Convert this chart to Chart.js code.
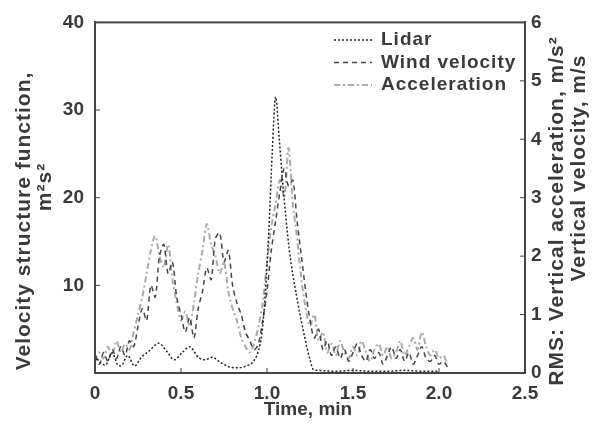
<!DOCTYPE html>
<html>
<head>
<meta charset="utf-8">
<script src="https://cdn.jsdelivr.net/npm/chart.js@4.4.1/dist/chart.umd.min.js"></script>
<style>
  html, body { margin: 0; padding: 0; background: #fff; }
  #chart { display: block; }
</style>
</head>
<body>
<canvas id="chart" width="592" height="429"></canvas>
<script>
// lidar structure function (left axis, m2 s-2)
const lidarTime = [0, 0.03, 0.06, 0.1, 0.13, 0.15, 0.19, 0.23, 0.27, 0.32, 0.37, 0.42, 0.46, 0.51, 0.55, 0.6, 0.64, 0.68, 0.73, 0.78, 0.83, 0.88, 0.92, 0.95, 0.97, 0.99, 1.01, 1.03, 1.05, 1.07, 1.09, 1.13, 1.17, 1.22, 1.25, 1.27, 1.3, 1.4, 1.5, 1.6, 1.7, 1.8, 1.9, 2.0];
const lidarValue = [2.0, 1.2, 0.9, 2.3, 1.0, 0.8, 2.0, 0.8, 1.8, 2.6, 3.4, 2.4, 1.5, 2.4, 3.0, 1.8, 1.5, 1.8, 1.2, 0.7, 0.6, 0.8, 1.3, 2.5, 4.5, 9, 16, 25, 31.5, 27, 22, 14, 9, 4, 1.5, 0.4, 0.3, 0.2, 0.3, 0.2, 0.2, 0.3, 0.2, 0.2];

// wind velocity and acceleration RMS (right axis)
const rmsTime = [0, 0.025, 0.05, 0.075, 0.1, 0.125, 0.15, 0.175, 0.2, 0.225, 0.25, 0.275, 0.3, 0.325, 0.35, 0.375, 0.4, 0.425, 0.45, 0.475, 0.5, 0.525, 0.55, 0.575, 0.6, 0.625, 0.65, 0.675, 0.7, 0.725, 0.75, 0.775, 0.8, 0.825, 0.85, 0.875, 0.9, 0.925, 0.95, 0.975, 1.0, 1.025, 1.05, 1.075, 1.1, 1.125, 1.15, 1.175, 1.2, 1.225, 1.25, 1.275, 1.3, 1.325, 1.35, 1.375, 1.4, 1.425, 1.45, 1.475, 1.5, 1.525, 1.55, 1.575, 1.6, 1.625, 1.65, 1.675, 1.7, 1.725, 1.75, 1.775, 1.8, 1.825, 1.85, 1.875, 1.9, 1.925, 1.95, 1.975, 2.0, 2.025, 2.05];
const windValue = [0.30, 0.15, 0.35, 0.20, 0.40, 0.25, 0.45, 0.30, 0.55, 0.45, 0.80, 1.10, 0.90, 1.50, 1.30, 2.00, 2.20, 1.70, 1.90, 1.30, 1.00, 0.70, 0.95, 0.60, 1.10, 1.40, 1.80, 1.60, 2.30, 2.40, 1.90, 2.10, 1.50, 1.20, 1.00, 0.70, 0.55, 0.40, 0.50, 0.90, 1.40, 2.10, 2.60, 3.10, 3.50, 3.20, 3.30, 2.60, 2.00, 1.40, 0.90, 0.60, 0.75, 0.40, 0.55, 0.30, 0.45, 0.25, 0.40, 0.20, 0.35, 0.50, 0.30, 0.20, 0.40, 0.25, 0.35, 0.15, 0.30, 0.45, 0.25, 0.40, 0.20, 0.35, 0.15, 0.30, 0.45, 0.25, 0.20, 0.30, 0.15, 0.20, 0.10];
const accelValue = [0.20, 0.35, 0.25, 0.45, 0.30, 0.55, 0.35, 0.50, 0.40, 0.70, 1.00, 1.30, 1.70, 2.10, 2.35, 2.00, 1.80, 2.20, 1.60, 1.20, 0.90, 1.05, 0.80, 1.20, 1.70, 2.10, 2.55, 2.20, 2.00, 1.70, 1.90, 1.40, 1.10, 0.90, 0.60, 0.45, 0.35, 0.50, 0.80, 1.20, 1.90, 2.50, 2.90, 3.30, 3.00, 3.85, 2.90, 2.30, 1.60, 1.10, 0.80, 1.00, 0.55, 0.70, 0.35, 0.50, 0.30, 0.55, 0.35, 0.25, 0.45, 0.30, 0.55, 0.35, 0.20, 0.40, 0.50, 0.30, 0.45, 0.25, 0.35, 0.55, 0.30, 0.45, 0.60, 0.40, 0.70, 0.45, 0.30, 0.40, 0.25, 0.30, 0.15];

const xTicks = [0, 0.5, 1.0, 1.5, 2.0, 2.5];
const leftTicks = [10, 20, 30, 40];
const rightTicks = [0, 1, 2, 3, 4, 5, 6];

const FONT = '"Liberation Sans", Arial, sans-serif';
const INK = '#3a3a3a';

function toPoints(xs, ys) {
  return xs.map((x, i) => ({ x, y: ys[i] }));
}

// legend, axis titles, frame and inward tick marks
const decorations = {
  id: 'decorations',
  afterDraw(chart) {
    const { ctx, chartArea: a, scales } = chart;
    ctx.save();

    ctx.strokeStyle = '#444';
    ctx.lineWidth = 2;
    ctx.strokeRect(a.left, a.top, a.right - a.left, a.bottom - a.top);

    ctx.lineWidth = 1;
    leftTicks.forEach(v => {
      const y = scales.y.getPixelForValue(v);
      ctx.beginPath(); ctx.moveTo(a.left, y); ctx.lineTo(a.left + 5, y); ctx.stroke();
    });
    rightTicks.forEach(v => {
      const y = scales.y2.getPixelForValue(v);
      ctx.beginPath(); ctx.moveTo(a.right, y); ctx.lineTo(a.right - 5, y); ctx.stroke();
    });
    xTicks.forEach(v => {
      const x = scales.x.getPixelForValue(v);
      ctx.beginPath(); ctx.moveTo(x, a.bottom); ctx.lineTo(x, a.bottom - 5); ctx.stroke();
    });

    // legend
    ctx.font = `bold 19px ${FONT}`;
    ctx.letterSpacing = '1px';
    ctx.textBaseline = 'middle';
    ctx.textAlign = 'left';
    chart.data.datasets.forEach((ds, i) => {
      const y = 40 + i * 22.5;
      ctx.strokeStyle = ds.borderColor;
      ctx.lineWidth = ds.borderWidth;
      ctx.setLineDash(ds.borderDash);
      ctx.beginPath(); ctx.moveTo(334, y); ctx.lineTo(372, y); ctx.stroke();
      ctx.setLineDash([]);
      ctx.fillStyle = INK;
      ctx.fillText(ds.label, 381, y);
    });

    // axis titles
    ctx.fillStyle = INK;
    ctx.textAlign = 'center';
    ctx.letterSpacing = '0px';
    ctx.fillText('Time, min', 308, 410);

    ctx.font = `bold 21px ${FONT}`;
    ctx.letterSpacing = '1px';
    const vertical = (text, x, y) => {
      ctx.save();
      ctx.translate(x, y);
      ctx.rotate(-Math.PI / 2);
      ctx.fillText(text, 0, 0);
      ctx.restore();
    };
    vertical('Velocity structure function,', 24, 221);
    vertical('m\u00b2s\u00b2', 45, 187);
    vertical('RMS: Vertical acceleration, m/s\u00b2', 557, 211);
    vertical('Vertical velocity, m/s', 579, 168);

    ctx.restore();
  },
};

new Chart(document.getElementById('chart'), {
  type: 'line',
  data: {
    datasets: [
      {
        label: 'Lidar',
        data: toPoints(lidarTime, lidarValue),
        yAxisID: 'y',
        borderColor: '#222',
        borderWidth: 1.5,
        borderDash: [2, 2],
        tension: 0.3,
        cubicInterpolationMode: 'monotone',
        pointRadius: 0,
      },
      {
        label: 'Wind velocity',
        data: toPoints(rmsTime, windValue),
        yAxisID: 'y2',
        borderColor: '#444',
        borderWidth: 1.5,
        borderDash: [5, 4],
        tension: 0.3,
        pointRadius: 0,
      },
      {
        label: 'Acceleration',
        data: toPoints(rmsTime, accelValue),
        yAxisID: 'y2',
        borderColor: '#aaa',
        borderWidth: 2,
        borderDash: [6, 3, 2, 3],
        tension: 0.3,
        pointRadius: 0,
      },
    ],
  },
  options: {
    responsive: false,
    animation: false,
    devicePixelRatio: 1,
    layout: { padding: { top: 18, left: 0, right: 0, bottom: 0 } },
    plugins: {
      legend: { display: false },
      tooltip: { enabled: false },
    },
    scales: {
      x: {
        type: 'linear',
        min: 0,
        max: 2.5,
        afterBuildTicks: s => { s.ticks = xTicks.map(value => ({ value })); },
        afterFit: s => { s.height = 56; },
        grid: { display: false, drawTicks: false },
        border: { color: '#444', width: 2 },
        ticks: {
          padding: 9,
          color: INK,
          font: { family: FONT, size: 19, weight: 'bold' },
          callback: v => (v === 0 ? '0' : v.toFixed(1)),
        },
      },
      y: {
        position: 'left',
        min: 0,
        max: 40,
        afterBuildTicks: s => { s.ticks = leftTicks.map(value => ({ value })); },
        afterFit: s => { s.width = 95; },
        grid: { display: false, drawTicks: false },
        border: { color: '#444', width: 2 },
        ticks: {
          padding: 11,
          color: INK,
          font: { family: FONT, size: 19, weight: 'bold' },
        },
      },
      y2: {
        position: 'right',
        min: 0,
        max: 6,
        afterBuildTicks: s => { s.ticks = rightTicks.map(value => ({ value })); },
        afterFit: s => { s.width = 67; },
        grid: { display: false, drawTicks: false },
        border: { color: '#444', width: 2 },
        ticks: {
          padding: 6,
          color: INK,
          font: { family: FONT, size: 19, weight: 'bold' },
        },
      },
    },
  },
  plugins: [decorations],
});
</script>
</body>
</html>
